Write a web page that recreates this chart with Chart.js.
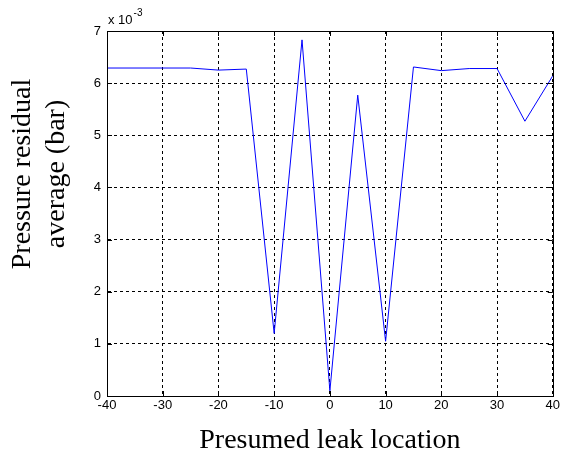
<!DOCTYPE html>
<html>
<head>
<meta charset="utf-8">
<script src="https://cdn.jsdelivr.net/npm/chart.js@4"></script>
<style>
html,body{margin:0;padding:0;background:#fff;}
#wrap{width:562px;height:459px;position:relative;}
</style>
</head>
<body>
<div id="wrap"><canvas id="c" width="562" height="459"></canvas></div>
<script>
// Data (pressure residual average, in units of 1e-3 bar)
const locations = [-40, -30, -25, -20, -15, -10, -5, 0, 5, 10, 15, 20, 25, 30, 35, 40];
const residuals = [6.29, 6.29, 6.29, 6.25, 6.27, 1.2, 6.83, 0.1, 5.77, 1.05, 6.31, 6.24, 6.28, 6.28, 5.27, 6.14];
const xTicks = [-40, -30, -20, -10, 0, 10, 20, 30, 40];
const yTicks = [0, 1, 2, 3, 4, 5, 6, 7];
const xTitle = 'Presumed leak location';
const yTitleLines = ['Pressure residual', 'average (bar)'];
const multiplierBase = 'x 10';
const multiplierExp = '-3';

const points = locations.map((x, i) => ({x: x, y: residuals[i]}));

const decor = {
  id: 'decor',
  afterDraw(chart) {
    const ctx = chart.ctx;
    const a = chart.chartArea;
    const xs = chart.scales.x, ys = chart.scales.y;
    ctx.save();
    // box
    ctx.strokeStyle = '#000';
    ctx.lineWidth = 1;
    ctx.setLineDash([]);
    ctx.strokeRect(Math.round(a.left) + 0.5, Math.round(a.top) + 0.5, Math.round(a.right - a.left), Math.round(a.bottom - a.top));
    // inward tick marks
    ctx.beginPath();
    xTicks.forEach(v => {
      const px = Math.round(xs.getPixelForValue(v)) + 0.5;
      ctx.moveTo(px, a.bottom); ctx.lineTo(px, a.bottom - 5);
      ctx.moveTo(px, a.top); ctx.lineTo(px, a.top + 5);
    });
    yTicks.forEach(v => {
      const py = Math.round(ys.getPixelForValue(v)) + 0.5;
      ctx.moveTo(a.left, py); ctx.lineTo(a.left + 5, py);
      ctx.moveTo(a.right, py); ctx.lineTo(a.right - 5, py);
    });
    ctx.stroke();
    // multiplier
    ctx.fillStyle = '#000';
    ctx.textBaseline = 'alphabetic';
    ctx.textAlign = 'left';
    ctx.font = '13px "Liberation Sans", Arial, sans-serif';
    ctx.fillText(multiplierBase, a.left + 1, a.top - 7);
    const w = ctx.measureText(multiplierBase).width;
    ctx.font = '10px "Liberation Sans", Arial, sans-serif';
    ctx.fillText(multiplierExp, a.left + 1 + w + 1, a.top - 15);
    // x title
    ctx.font = '28px "Liberation Serif", "Times New Roman", serif';
    ctx.textAlign = 'center';
    ctx.textBaseline = 'middle';
    ctx.fillText(xTitle, (a.left + a.right) / 2, 441);
    // y title
    const cy = 174;
    ctx.save();
    ctx.translate(23, cy);
    ctx.rotate(-Math.PI / 2);
    ctx.fillText(yTitleLines[0], 0, 0);
    ctx.restore();
    ctx.save();
    ctx.translate(57, cy);
    ctx.rotate(-Math.PI / 2);
    ctx.fillText(yTitleLines[1], 0, 0);
    ctx.restore();
    ctx.restore();
  }
};

new Chart(document.getElementById('c'), {
  type: 'line',
  data: {
    datasets: [{
      data: points,
      borderColor: '#0000ff',
      borderWidth: 1,
      pointRadius: 0,
      tension: 0,
      fill: false
    }]
  },
  options: {
    responsive: false,
    animation: false,
    devicePixelRatio: 1,
    layout: {padding: {left: 0, top: 31, right: 7, bottom: 0}},
    plugins: {legend: {display: false}, tooltip: {enabled: false}},
    scales: {
      x: {
        type: 'linear',
        min: -40, max: 40,
        afterFit: s => { s.height = 63; },
        afterBuildTicks: s => { s.ticks = xTicks.map(v => ({value: v})); },
        ticks: {color: '#000', padding: 2, font: {family: '"Liberation Sans", Arial, sans-serif', size: 13}, maxRotation: 0},
        grid: {color: '#000', lineWidth: 1, drawTicks: false},
        border: {display: true, color: '#000', dash: [3, 3]},
      },
      y: {
        min: 0, max: 7,
        afterFit: s => { s.width = 107; },
        afterBuildTicks: s => { s.ticks = yTicks.map(v => ({value: v})); },
        ticks: {color: '#000', padding: 6, font: {family: '"Liberation Sans", Arial, sans-serif', size: 13}},
        grid: {color: '#000', lineWidth: 1, drawTicks: false},
        border: {display: true, color: '#000', dash: [3, 3]},
      }
    }
  },
  plugins: [decor]
});
</script>
</body>
</html>
